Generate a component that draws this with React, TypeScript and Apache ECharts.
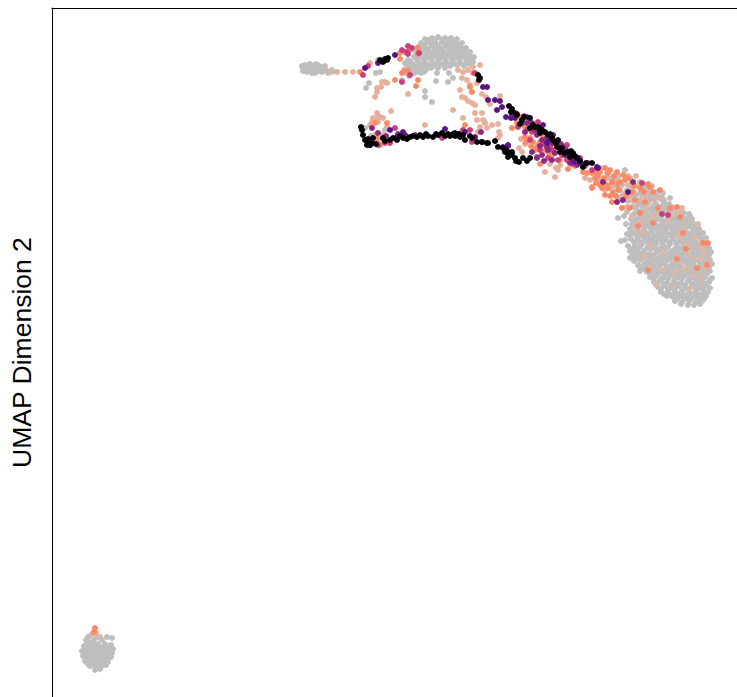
import React, { useEffect, useRef } from "react";
import * as echarts from "echarts";

type P = [number, number];

// UMAP points, grouped by expression colour bin.
const greyBlob: P[] = [
[652,198],[659,197],[664,200],[641,204],[648,203],[656,204],[663,205],[669,204],
[636,209],[643,208],[650,209],[657,210],[664,209],[671,211],[634,214],[641,213],[648,215],[655,214],[662,215],[669,216],[675,214],[684,213],[689,214],
[637,219],[644,218],[651,220],[658,219],[665,221],[672,219],[679,220],[686,219],[692,219],
[632,224],[639,223],[646,225],[653,224],[660,226],[667,224],[674,225],[681,224],[688,226],[694,224],
[630,229],[637,228],[644,230],[651,229],[658,231],[665,229],[672,230],[679,229],[686,231],[693,229],[699,229],
[627,234],[634,233],[641,235],[648,234],[655,236],[662,234],[669,235],[676,234],[683,236],[690,234],[697,235],[703,233],
[625,240],[631,239],[638,240],[645,239],[652,241],[659,239],[666,240],[673,239],[680,241],[687,239],[694,240],[701,239],[706,238],
[635,245],[642,244],[649,246],[656,244],[663,245],[670,244],[677,246],[684,245],[691,244],[698,246],[705,245],
[630,251],[637,250],[644,251],[651,249],[658,251],[665,250],[672,251],[679,250],[686,252],[693,250],[700,251],[707,250],[711,252],
[632,256],[639,255],[646,256],[653,255],[660,257],[667,255],[674,256],[681,255],[688,257],[695,255],[702,256],[709,255],
[634,261],[640,260],[647,262],[654,260],[661,261],[668,260],[675,262],[682,260],[689,261],[696,260],[703,262],[710,260],
[640,267],[646,266],[653,267],[660,265],[667,267],[674,266],[681,267],[688,265],[695,267],[702,266],[709,267],[712,264],
[647,272],[654,271],[661,272],[668,271],[675,272],[682,271],[689,273],[696,271],[703,272],[710,271],
[650,277],[656,276],[663,278],[670,276],[677,277],[684,276],[691,278],[698,276],[705,277],[712,278],
[654,282],[660,281],[667,283],[674,281],[681,283],[688,281],[695,283],[702,281],[709,282],
[658,287],[664,286],[671,288],[678,286],[685,288],[692,286],[699,288],[706,286],[710,288],
[661,292],[668,291],[675,293],[682,291],[689,293],[696,291],[703,293],[708,292],
[667,296],[673,297],[680,296],[687,298],[694,296],[701,298],[706,296],
[675,301],[682,302],[689,301],[696,302],[702,301],[688,305],[694,305],[700,304],
[631,219],[626,224],[621,241],[628,246],[630,258],[640,271],[638,265],
];

const greyBlobFill: P[] = [
[645,206],[653,206],[660,207],[667,207],[638,211],[646,211],[653,212],[660,212],[667,212],[674,212],
[640,216],[647,217],[654,217],[661,218],[668,218],[675,217],[682,216],[634,221],[641,221],[648,222],[655,222],[662,223],[669,222],[676,222],[683,222],[690,222],
[635,226],[642,226],[649,227],[656,228],[663,227],[670,227],[677,227],[684,228],[691,227],[697,227],
[631,231],[638,231],[645,232],[652,232],[659,233],[666,232],[673,232],[680,232],[687,233],[694,232],[700,232],
[630,236],[637,237],[644,237],[651,238],[658,237],[665,238],[672,237],[679,238],[686,237],[693,238],[700,237],
[634,242],[641,242],[648,243],[655,242],[662,243],[669,242],[676,243],[683,243],[690,242],[697,243],[704,242],
[633,248],[640,247],[647,248],[654,247],[661,248],[668,247],[675,249],[682,248],[689,248],[696,248],[703,248],[709,248],
[635,253],[642,253],[649,254],[656,253],[663,253],[670,253],[677,254],[684,253],[691,254],[698,253],[705,253],
[636,258],[643,258],[650,258],[657,259],[664,258],[671,258],[678,258],[685,259],[692,258],[699,258],[706,258],
[644,264],[651,264],[658,263],[665,264],[672,264],[679,264],[686,263],[693,264],[700,264],[707,263],
[643,269],[650,270],[657,269],[664,270],[671,269],[678,269],[685,270],[692,269],[699,269],[706,270],
[651,274],[658,274],[665,274],[672,274],[679,274],[686,275],[693,274],[700,274],[707,274],
[654,279],[661,279],[668,279],[675,279],[682,279],[689,280],[696,279],[703,279],[710,280],
[657,284],[664,284],[671,285],[678,284],[685,285],[692,284],[699,285],[706,284],
[661,289],[668,289],[675,290],[682,289],[689,290],[696,289],[703,290],
[664,294],[671,295],[678,294],[685,295],[692,294],[699,295],[705,294],
[677,299],[684,299],[691,299],[698,299],[704,299],[681,304],
];

const greyMid: P[] = [
[622,185],[630,178],[617,186],[627,190],[636,195],[647,190],[657,192],[645,197],[622,196],[633,206],[627,212],[618,218],
[640,182],[612,178],[605,184],[618,177],[652,186],[663,193],[625,170],[670,198],[614,195],[607,173],
[632,188],[640,193],[650,194],[628,201],[637,201],[624,216],[632,200],[660,199],[644,186],
];

const greyTop: P[] = [
[425,39],[432,38],[438,37],[445,38],[451,38],[457,39],[421,43],[428,42],[435,42],[442,42],[449,42],[456,43],[462,43],
[418,47],[425,47],[432,46],[439,47],[446,46],[453,47],[460,47],[466,48],
[416,52],[423,51],[430,52],[437,51],[444,52],[451,51],[458,52],[465,51],[470,52],
[414,57],[421,56],[428,57],[435,56],[442,57],[449,56],[456,57],[463,56],[470,57],[474,57],
[411,62],[418,61],[425,62],[432,61],[439,62],[446,61],[453,62],[460,61],[467,62],[473,62],
[408,65],[415,66],[422,66],[429,66],[436,66],[443,65],[450,66],[457,65],[464,66],
[405,69],[412,70],[419,69],[426,70],[406,73],[414,73],[421,73],[409,76],
[449,73],[437,73],[436,81],[448,82],[453,78],[425,91],[425,97],[432,102],[366,88],[369,83],[376,73],[380,72],
[302,66],[303,69],[305,65],[307,72],[308,67],[310,64],[311,70],[313,66],[315,73],[316,68],[318,65],[319,71],[321,67],[323,69],[325,66],[303,71],[312,73],[316,64],[322,72],
[332,70],[328,73],[371,136],[385,130],[376,142],[365,128],[402,80],
[428,40],[435,40],[442,40],[449,40],[455,41],[424,45],[431,44],[438,45],[445,44],[452,45],[459,45],[421,49],[428,49],[435,49],[442,49],[449,49],[456,49],[463,49],
[419,54],[426,54],[433,54],[440,54],[447,54],[454,54],[461,54],[468,54],[417,59],[424,59],[431,59],[438,59],[445,59],[452,59],[459,59],[466,59],[472,60],
[413,64],[420,64],[427,64],[434,64],[441,64],[448,64],[455,64],[462,64],[469,64],[410,68],[417,68],[424,68],[431,68],[438,68],[445,68],
[306,69],[309,68],[314,70],[320,69],[304,67],
[409,71],[417,72],[424,72],[408,60],[405,63],
];

const greyBottom: P[] = [
[90,636],[96,638],[102,640],[112,638],[107,637],[86,640],[92,642],[98,644],[105,644],[111,645],
[84,646],[90,647],[96,649],[102,648],[108,649],[113,649],
[82,651],[88,652],[94,653],[100,652],[106,654],[112,653],
[83,656],[89,657],[95,658],[101,657],[107,658],[111,657],
[85,661],[91,662],[97,662],[103,662],[108,662],
[90,666],[96,667],[102,666],[106,665],[95,670],[100,669],
[87,644],[93,645],[99,646],[105,646],[85,649],[91,650],[97,651],[103,651],[109,651],[86,654],[92,655],[98,655],[104,655],[110,655],
[87,659],[93,660],[99,660],[105,660],[88,664],[94,664],[100,664],[104,664],
];

const lightSalmon: P[] = [
[353,72],[345,72],[337,72],[327,71],[332,72],[378,60],[370,63],[458,70],[463,72],[468,70],[473,67],[480,65],[470,63],[462,78],[467,80],[470,85],[477,83],[460,90],[462,97],[465,98],[468,101],[472,103],[475,105],[453,110],[463,118],[475,113],[482,113],[477,120],[483,120],[485,123],[480,127],[492,125],[487,128],[478,132],[500,135],[498,138],[425,125],[391,111],[385,82],[387,83],[382,82],[377,88],[377,92],[375,97],[381,87],[408,94],
[377,113],[373,118],[372,122],[377,118],[380,117],[378,122],[383,118],[370,125],[387,127],[383,135],[375,135],[378,140],[382,142],
[482,94],[486,97],[490,104],[484,121],[498,124],[499,132],[521,139],[525,144],[519,148],[522,152],[500,96],
[550,164],[556,168],[558,170],[560,165],[555,177],[545,172],[601,168],[596,172],
[600,182],[608,178],[614,185],[620,190],[628,185],[634,192],[642,195],[650,200],[656,206],[664,202],[672,207],[680,212],[686,222],[692,226],[698,231],[704,240],[707,255],[700,262],[706,272],[692,272],[697,280],[685,262],[683,240],[675,230],[668,226],[660,232],[650,218],[644,222],[638,234],[648,238],[655,248],[672,265],[660,262],[665,285],[680,278],[692,245],
[610,186],[616,180],[622,200],[630,196],[638,205],[644,212],[652,210],[670,220],[676,225],[690,238],[699,252],[703,285],[640,246],[648,262],
[92,634],[88,637],[96,633],[100,637],[93,641],[87,641],
[636,186],[642,190],[648,196],[624,194],[618,176],[628,176],[632,181],[640,200],[654,200],[662,198],[676,218],[684,226],[694,233],[700,245],[701,270],[693,262],[688,270],[656,226],[662,238],[670,256],[678,248],[654,266],[674,284],
[634,197],[627,207],[618,198],[612,190],[605,190],[597,180],[590,180],[585,178],[636,176],[646,188],[656,196],[666,205],[675,208],[682,208],[690,216],
];

const lightSalmonTop: P[] = [
[640,222],[652,216],[668,222],[684,231],[695,238],[702,248],[699,258],[705,268],[689,255],[694,275],[664,252],[678,236],[650,246],[645,256],[662,270],[683,268],[656,285],[690,288],[636,228],[672,214],
[646,208],[660,214],[632,216],[642,232],[698,224],[704,252],[708,262],[702,278],[676,272],[686,244],
];

const salmon: P[] = [
[360,72],[402,73],[404,71],[408,71],[395,80],[418,80],[416,86],[418,48],[418,54],[400,59],[405,52],[410,50],[400,53],[465,125],[470,87],[472,92],[473,73],[387,123],[375,123],[377,138],[380,145],
[512,128],[517,123],[530,138],[533,142],[538,145],[540,164],[568,169],[525,127],[520,117],[587,173],[592,173],[595,178],[605,168],[608,173],[612,182],[592,187],[607,185],[610,196],[618,190],[616,196],[603,180],
[592,188],[597,173],[602,188],[605,195],[612,202],[613,193],[610,170],[623,175],[625,180],[620,182],[640,188],[650,187],[653,192],[660,190],[645,202],[635,200],[630,208],[640,213],[638,226],[653,223],[670,208],[677,259],[686,249],[703,243],[708,243],[683,233],[648,270],[697,268],[707,265],[677,207],[622,208],[680,217],[658,208],
[525,137],[535,150],[543,136],[548,152],[556,144],[95,628],[94,632],
[526,142],[531,146],[536,148],[540,142],[545,150],[552,155],[560,160],[575,166],[583,172],[598,176],[600,172],[604,178],[608,188],[614,176],[618,184],[628,178],[634,186],[644,192],[648,184],[626,196],[632,192],[617,172],[600,185],[596,183],
];

const rose: P[] = [
[402,82],[408,46],[419,53],[410,75],[368,66],[363,75],[395,128],[390,143],[378,145],[385,143],[442,138],[472,142],[470,130],[463,130],[407,52],[402,50],[475,73],
[512,115],[518,127],[532,132],[540,150],[537,157],[552,150],[558,160],[567,160],[548,158],[567,145],[580,158],[597,168],[530,140],
[642,183],[668,215],[662,214],
[524,116],[538,122],[544,144],[550,146],[562,155],[572,164],[585,166],[592,170],[408,54],[412,48],[528,129],
];

const magenta: P[] = [
[522,123],[527,123],[525,132],[532,123],[537,135],[542,140],[547,147],[532,152],[537,158],[542,155],[544,161],[555,153],[563,147],[572,160],[577,165],[588,163],[517,114],[481,132],
[603,182],[633,182],[623,200],[617,202],[372,128],[398,134],[415,135],[458,134],[386,136],[378,133],
[529,118],[535,130],[542,131],[553,143],[561,144],[566,150],[570,163],[580,160],[546,139],[552,160],[540,146],[548,150],
];

const purple: P[] = [
[488,100],[495,100],[500,101],[497,110],[502,107],[487,87],[483,87],[378,63],[395,55],[370,145],[390,130],[397,137],[465,132],[445,129],[475,137],[503,147],[508,145],[365,68],
[506,117],[511,118],[508,146],[547,143],[550,140],[578,158],[580,163],[597,167],[538,129],[565,155],[598,168],[628,192],
[543,125],[553,135],[560,148],[574,162],[515,118],[527,117],[405,135],[403,132],
];

const black: P[] = [
[362,130],[363,135],[365,140],[368,142],[372,143],[367,145],[373,138],[383,138],[390,140],[397,140],[403,138],[410,137],[417,137],[423,137],[428,136],[433,137],[438,135],[445,136],[450,136],[455,136],[460,137],[465,140],[472,138],[477,142],[482,142],[488,143],[498,147],[503,148],[508,152],
[387,60],[383,62],[388,58],[479,80],[478,75],
[509,106],[512,109],[515,113],[522,120],[530,118],[530,128],[535,127],[545,132],[548,135],[552,138],[558,140],[557,147],[560,152],[568,152],[573,153],[570,157],[577,158],[583,167],[592,163],
[482,142],[487,143],[495,141],[505,152],[508,153],[512,155],[515,158],[519,162],[527,161],[530,158],[520,124],[540,129],[455,133],[470,136],
[385,141],[393,138],[400,136],[407,139],[413,136],[420,135],[426,134],[436,134],[442,133],[448,134],[453,134],[459,134],[463,135],[368,139],[370,145],[376,144],[361,127],[385,59],[380,60],[480,78],
[511,112],[517,115],[524,117],[533,125],[538,127],[542,130],[550,134],[554,141],[556,143],[562,148],[565,153],[571,151],[575,156],[580,161],[512,152],[516,161],[523,158],[508,157],[506,150],[586,163],[540,133],
];

const yTitle = "UMAP Dimension 2";

const layers: { data: P[]; color: string }[] = [
  { data: lightSalmon, color: "#E8AF9A" },
  { data: greyTop, color: "#BEBEBE" },
  { data: greyBlob, color: "#BEBEBE" },
  { data: greyBlobFill, color: "#BEBEBE" },
  { data: greyBottom, color: "#BEBEBE" },
  { data: greyMid, color: "#C4BCB8" },
  { data: lightSalmonTop, color: "#DCB8A8" },
  { data: salmon, color: "#FA8A66" },
  { data: rose, color: "#C9417A" },
  { data: magenta, color: "#8C2981" },
  { data: purple, color: "#5A1580" },
  { data: black, color: "#000004" },
];

export default function App() {
  const ref = useRef<HTMLDivElement>(null);
  useEffect(() => {
    const chart = echarts.init(ref.current!, undefined, { renderer: "svg" });
    const axisLine = { show: true, onZero: false, lineStyle: { color: "#000", width: 1 } };
    chart.setOption({
      animation: false,
      backgroundColor: "#fff",
      grid: { left: 52, top: 8, right: 0, bottom: 0, outerBoundsMode: "none" },
      xAxis: {
        type: "value", min: 52, max: 737, position: "top",
        axisLine, axisTick: { show: false }, axisLabel: { show: false }, splitLine: { show: false },
      },
      yAxis: {
        type: "value", min: 8, max: 697, inverse: true, position: "left",
        name: yTitle, nameLocation: "middle", nameGap: 17,
        nameTextStyle: { fontFamily: "Liberation Sans", fontSize: 26.5, color: "#000" },
        axisLine, axisTick: { show: false }, axisLabel: { show: false }, splitLine: { show: false },
      },
      series: layers.map((l) => ({
        type: "scatter",
        data: l.data,
        symbolSize: 6,
        itemStyle: { color: l.color, opacity: 1 },
        silent: true,
      })),
    });
    return () => chart.dispose();
  }, []);
  return <div ref={ref} style={{ position: "fixed", left: 0, top: 0, width: 737, height: 697 }} />;
}
